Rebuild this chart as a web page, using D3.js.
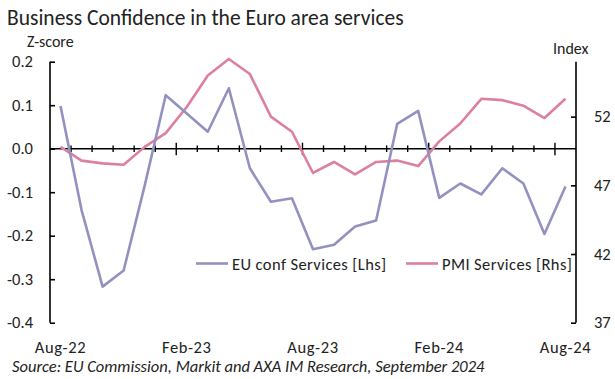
<!DOCTYPE html>
<html>
<head>
<meta charset="utf-8">
<script src="https://cdn.jsdelivr.net/npm/d3@7"></script>
<style>
  html, body { margin: 0; padding: 0; background: #fff; }
  svg { display: block; }
  text { font-family: Carlito, Lato, "Open Sans", sans-serif; fill: #222; }
</style>
</head>
<body>
<svg id="chart" width="615" height="379"></svg>
<script>
const months = ["Aug-22","Sep-22","Oct-22","Nov-22","Dec-22","Jan-23","Feb-23","Mar-23","Apr-23","May-23","Jun-23","Jul-23",
  "Aug-23","Sep-23","Oct-23","Nov-23","Dec-23","Jan-24","Feb-24","Mar-24","Apr-24","May-24","Jun-24","Jul-24","Aug-24"];
const euConf = [0.098,-0.141,-0.317,-0.280,-0.085,0.123,0.081,0.039,0.139,-0.045,-0.122,-0.114,
  -0.231,-0.221,-0.179,-0.165,0.057,0.087,-0.113,-0.080,-0.105,-0.045,-0.080,-0.196,-0.087];
const pmi = [49.8,48.8,48.6,48.5,49.8,50.8,52.7,55.0,56.2,55.1,52.0,50.9,
  47.9,48.7,47.8,48.7,48.8,48.4,50.2,51.5,53.3,53.2,52.8,51.9,53.3];
const leftTicks = [0.2,0.1,0.0,-0.1,-0.2,-0.3,-0.4];
const rightTicks = [37,42,47,52];
const xLabels = ["Aug-22","Feb-23","Aug-23","Feb-24","Aug-24"];

(function () {
const svg = d3.select("#chart");
const pL = 50, pR = 576, pT = 61.7, pB = 322.7;
const fs = 16.5;

const x = d3.scaleBand().domain(months).range([pL, pR]).paddingInner(0).paddingOuter(0);
const yL = d3.scaleLinear().domain([-0.4, 0.2]).range([pB, pT]);
const yR = d3.scaleLinear().domain([37, 56]).range([pB, pT]);
const cx = d => x(d) + x.bandwidth() / 2;

svg.append("text").attr("x", 7).attr("y", 25).attr("font-size", 21.5)
  .attr("font-weight", 300)
  .text("Business Confidence in the Euro area services");

svg.append("text").attr("x", 27).attr("y", 47).attr("font-size", fs - 0.5).attr("font-weight", 300).text("Z-score");
svg.append("text").attr("x", 553).attr("y", 54).attr("font-size", fs - 0.5).attr("font-weight", 300).text("Index");

const axL = svg.append("g").attr("transform", `translate(${pL},0)`)
  .call(d3.axisRight(yL).tickValues(leftTicks).tickSize(5).tickFormat(""));
axL.select(".domain").attr("stroke", "#000").attr("stroke-width", 1.6).attr("d", `M0,${pT}V${pB}`);
axL.selectAll(".tick line").attr("stroke", "#000").attr("stroke-width", 1.6);
svg.append("g").selectAll("text").data(leftTicks).join("text")
  .attr("x", 33).attr("y", d => yL(d)).attr("dy", "0.35em").attr("text-anchor", "end")
  .attr("font-size", fs).attr("font-weight", 300).text(d => d3.format(".1f")(d).replace("−", "-"));

const axR = svg.append("g").attr("transform", `translate(${pR},0)`)
  .call(d3.axisLeft(yR).tickValues(rightTicks).tickSize(5).tickFormat(""));
axR.select(".domain").attr("stroke", "#000").attr("stroke-width", 1.6).attr("d", `M0,${pT}V${pB}`);
axR.selectAll(".tick line").attr("stroke", "#000").attr("stroke-width", 1.6);
svg.append("g").selectAll("text").data(rightTicks).join("text")
  .attr("x", 594).attr("y", d => yR(d)).attr("dy", "0.35em")
  .attr("font-size", fs).attr("font-weight", 300).text(d => d);

const y0 = yL(0);
svg.append("line").attr("x1", pL).attr("x2", pR).attr("y1", y0).attr("y2", y0)
  .attr("stroke", "#000").attr("stroke-width", 1.6);
const bounds = months.map((m, i) => i).slice(1);
svg.append("g").selectAll("line").data(bounds).join("line")
  .attr("x1", i => x(months[i])).attr("x2", i => x(months[i]))
  .attr("y1", i => y0 - (i % 6 === 0 ? 6 : 3.3))
  .attr("y2", i => y0 + (i % 6 === 0 ? 6.5 : 3.3))
  .attr("stroke", "#000").attr("stroke-width", 1.4);

svg.append("g").selectAll("text").data(xLabels).join("text")
  .attr("x", d => cx(d)).attr("y", 353).attr("text-anchor", "middle")
  .attr("font-size", fs).attr("font-weight", 300).attr("letter-spacing", 0.6).text(d => d);

const lineL = d3.line().x((d, i) => cx(months[i])).y(d => yL(d));
const lineR = d3.line().x((d, i) => cx(months[i])).y(d => yR(d));
const purple = "#9391c0", pink = "#dd7f9f";
svg.append("path").datum(pmi).attr("d", lineR).attr("fill", "none")
  .attr("stroke", pink).attr("stroke-width", 2.6).attr("stroke-linejoin", "round");
svg.append("path").datum(euConf).attr("d", lineL).attr("fill", "none")
  .attr("stroke", purple).attr("stroke-width", 2.6).attr("stroke-linejoin", "round");

const legend = [
  {label: "EU conf Services [Lhs]", color: purple, x: 196},
  {label: "PMI Services [Rhs]", color: pink, x: 406}
];
const lg = svg.append("g").selectAll("g").data(legend).join("g");
lg.append("line").attr("x1", d => d.x).attr("x2", d => d.x + 32).attr("y1", 263.5).attr("y2", 263.5)
  .attr("stroke", d => d.color).attr("stroke-width", 2.6);
lg.append("text").attr("x", d => d.x + 36).attr("y", 264).attr("dy", "0.35em")
  .attr("font-size", fs).attr("font-weight", 300).attr("letter-spacing", 0.4).text(d => d.label);

svg.append("text").attr("x", 12).attr("y", 372).attr("font-size", fs).attr("font-style", "italic")
  .attr("font-weight", 300)
  .text("Source: EU Commission, Markit and AXA IM Research, September 2024");
})();
</script>
</body>
</html>
